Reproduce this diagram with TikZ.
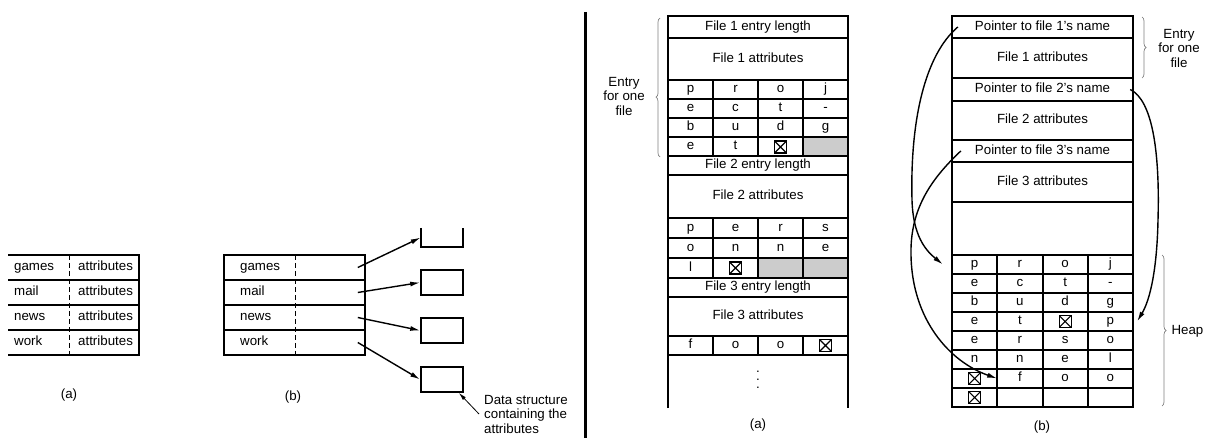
\documentclass[tikz,border=0pt]{standalone}
\usepackage{fontspec}
\setmainfont{Liberation Sans}
\usetikzlibrary{decorations.pathreplacing,arrows.meta}

\tikzset{
  tblline/.style={line width=1.6pt},
  divider/.style={line width=0.9pt, dash pattern=on 5pt off 3pt},
  txt/.style={inner sep=0pt, text height=9pt, text depth=2.5pt},
  chr/.style={txt, minimum width=45pt, minimum height=19pt},
  nulbox/.style={draw, line width=1.1pt, minimum size=12pt, inner sep=0pt,
    path picture={\draw[line width=1.1pt] (path picture bounding box.north west) -- (path picture bounding box.south east)
      (path picture bounding box.north east) -- (path picture bounding box.south west);}},
  unused/.style={fill=gray!40},
  brc/.style={draw=gray, line width=0.7pt, decorate, decoration={brace, amplitude=4pt}},
  ptrarrow/.style={-{Latex[length=10pt, width=5pt]}, line width=1.4pt},
  databox/.style={draw, tblline, minimum width=42pt, minimum height=25pt, inner sep=0pt},
}

\begin{document}
\begin{tikzpicture}[x=1pt, y=-1pt, font=\fontsize{13.3}{14.5}\selectfont]
\useasboundingbox (0,0) rectangle (1205,438);

% (a) attributes kept in the entry
\draw[tblline] (8,255) -| (139,355) -- (8,355);
\foreach \y in {280,305,330} \draw[tblline] (8,\y) -- (139,\y);
\draw[divider] (69,255) -- (69,355);
\foreach \n [count=\i] in {games,mail,news,work} {
  \node[txt, anchor=west] (an\i) at (14,{242.5+25*\i}) {\n};
  \node[txt, anchor=west] (aa\i) at (78,{242.5+25*\i}) {attributes};
}
\node (capa) at (69,395) {(a)};

% (b) attributes kept elsewhere
\foreach \n [count=\i] in {games,mail,news,work} {
  \node[draw, tblline, minimum width=141pt, minimum height=25pt, inner sep=0pt] (rb\i) at (294.5,{242.5+25*\i}) {};
  \node[txt, anchor=west] (bn\i) at (240,{242.5+25*\i}) {\n};
}
\draw[divider] (295,255) -- (295,355);
\node[minimum width=42pt, minimum height=19pt, inner sep=0pt] (d1) at (442,237.5) {};
\draw[tblline] (d1.north west) |- (d1.south east) -- (d1.north east);
\node[databox] (d2) at (442,282.5) {};
\node[databox] (d3) at (442,330.5) {};
\node[databox] (d4) at (442,379.5) {};
\foreach \i in {1,...,4} \draw[ptrarrow] ([xshift=-8pt]rb\i.east) -- (d\i.west);
\node[inner sep=0pt, anchor=west, align=left] (note) at (484,414) {Data structure\\containing the\\attributes};
\draw[-{Latex[length=8pt, width=4pt]}, line width=0.8pt] ([xshift=-5pt]note.west) -- ([xshift=-5pt]d4.south east);
\node (capb) at (293,397) {(b)};

% separator
\draw[line width=3pt] (585,12) -- (585,438);

% (a) names inline
\fill[unused] (803,137) rectangle (848,156);
\fill[unused] (758,258) rectangle (848,278);
\draw[tblline] (668,408) |- (848,16) -- (848,408);
\foreach \y in {38,80,99,118,137,156,175,218,238,258,278,297,336,355} \draw[tblline] (668,\y) -- (848,\y);
\foreach \x in {713,758,803} \draw[tblline] (\x,80) -- (\x,156) (\x,218) -- (\x,278) (\x,336) -- (\x,355);
\node[txt] (len1) at (758,27) {File 1 entry length};
\node[txt] (att1) at (758,59) {File 1 attributes};
\node[txt] (len2) at (758,165.5) {File 2 entry length};
\node[txt] (att2) at (758,196.5) {File 2 attributes};
\node[txt] (len3) at (758,287.5) {File 3 entry length};
\node[txt] (att3) at (758,316.5) {File 3 attributes};
\foreach \y/\w [count=\r] in {89.5/{p,r,o,j},108.5/{e,c,t,-},127.5/{b,u,d,g},146.5/{e,t},228/{p,e,r,s},248/{o,n,n,e},268/{l},345.5/{f,o,o}}
  \foreach \l [count=\c] in \w \node[chr] (m\r\c) at ({645.5+45*\c},\y) {\l};
\node[nulbox] (mx1) at (780.5,147) {};
\node[nulbox] (mx2) at (735.5,268) {};
\node[nulbox] (mx3) at (825.5,345.5) {};
\node[inner sep=0pt, align=center, font=\fontsize{13.3}{8}\selectfont] (dots) at (758,380) {.\\.\\.};
\draw[brc, decoration={aspect=0.43}] (660,157) -- (660,18);
\node[align=center] (entrya) at (624,96) {Entry\\for one\\file};
\node (capc) at (758,425) {(a)};

% (b) names in a heap
\draw[tblline] (952,16) rectangle (1133,407);
\foreach \y in {38,78,101,140,162,202,255,274,293,312,331,350,369,388} \draw[tblline] (952,\y) -- (1133,\y);
\foreach \x in {997,1043,1088} \draw[tblline] (\x,255) -- (\x,407);
\node[txt, minimum width=181pt] (ptr1) at (1042.5,27) {Pointer to file 1's name};
\node[txt] (fa1) at (1042.5,58) {File 1 attributes};
\node[txt, minimum width=181pt] (ptr2) at (1042.5,89.5) {Pointer to file 2's name};
\node[txt] (fa2) at (1042.5,120.5) {File 2 attributes};
\node[txt, minimum width=181pt] (ptr3) at (1042.5,151) {Pointer to file 3's name};
\node[txt] (fa3) at (1042.5,182) {File 3 attributes};
\foreach \w [count=\r] in {{p,r,o,j},{e,c,t,-},{b,u,d,g},{e,t,,p},{e,r,s,o},{n,n,e,l},{,f,o,o}}
  \foreach \l [count=\c] in \w \node[chr] (h\r\c) at ({929.4+45.25*\c},{245.5+19*\r}) {\l};
\node[nulbox] (hx1) at (h43) {};
\node[nulbox] (hx2) at (h71) {};
\node[nulbox] (hx3) at (974.6,397.5) {};
\draw[ptrarrow] ([xshift=6pt]ptr1.west) .. controls (925,55) and (910,120) .. (912,200)
  .. controls (913,235) and (925,250) .. ([xshift=-9pt]h11.west);
\draw[ptrarrow] ([xshift=-3pt]ptr2.east) .. controls (1152,100) and (1160,150) .. (1158,220)
  .. controls (1157,270) and (1150,300) .. ([xshift=4pt]h44.east);
\draw[ptrarrow] ([xshift=9pt]ptr3.west) .. controls (930,180) and (910,210) .. (911,255)
  .. controls (912,320) and (950,362) .. (h72.west);
\draw[brc] (1142,17) -- (1142,78);
\node[align=center] (entryb) at (1179,48) {Entry\\for one\\file};
\draw[brc] (1162,255) -- (1162,406);
\node[anchor=west] (heap) at (1168,331) {Heap};
\node (capd) at (1042,427) {(b)};
\end{tikzpicture}
\end{document}
